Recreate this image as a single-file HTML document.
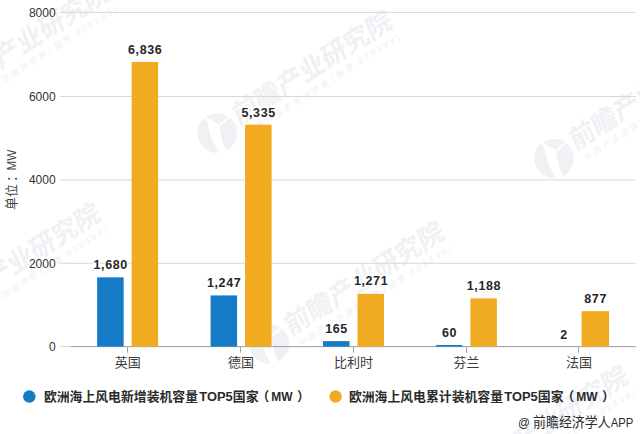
<!DOCTYPE html>
<html lang="zh-CN">
<head>
<meta charset="utf-8">
<title>欧洲海上风电新增与累计装机容量TOP5国家（MW）</title>
<style>
html,body{margin:0;padding:0;background:#fff;}
body{width:640px;height:434px;overflow:hidden;font-family:"Liberation Sans","Noto Sans CJK SC",sans-serif;}
#chart{display:block;width:640px;height:434px;}
#chart text{font-family:"Liberation Sans","Noto Sans CJK SC",sans-serif;}
</style>
</head>
<body>
<svg id="chart" width="640" height="434" viewBox="0 0 640 434" role="img" aria-label="欧洲海上风电新增装机容量TOP5国家与累计装机容量TOP5国家（MW）">
<defs>
<g id="wm" fill="#eff1f4" font-family="Liberation Sans, Noto Sans CJK SC, sans-serif"><g transform="translate(0.8 -3.6) rotate(32.5)"><circle cx="0" cy="0" r="19.8"/><g fill="#fff" stroke="none"><path d="M-13.2 -15.6 L-11.6 -17 L-7 -13.4 L1.6 -8.6 L3.6 1 L5 8 L9 18.2 L1.5 20.4 L-5.6 5.5 L-8.6 -5.5 L-9.4 -10.5 Z"/><path d="M1.2 -8.2 L11.6 -17.2 L13 -15.8 L3 -6.6 Z"/></g></g><g transform="translate(0 1.1) skewX(-8.5)"><text x="22.6" y="0" font-size="26.4" font-weight="700" fill="#eff1f4" textLength="184.1" lengthAdjust="spacingAndGlyphs">前瞻产业研究院</text><text x="28.2" y="14.5" font-size="8.4" fill="#eff1f4" letter-spacing="2.5">中国产业咨询领导者</text><text x="134.3" y="14.5" font-size="8.4" fill="#eff1f4" letter-spacing="2.1">股票</text><text x="127.8" y="14.2" font-size="8.6">(</text><text x="159.6" y="14.2" font-size="8.6" letter-spacing="2.7">839599)</text></g></g>
</defs>
<rect width="640" height="434" fill="#fff"/>
<use href="#wm" transform="translate(218.5 136.6) rotate(-32.5)"/>
<use href="#wm" transform="translate(555.3 162) rotate(-32.5)"/>
<use href="#wm" transform="translate(-63.9 108.1) rotate(-32.5)"/>
<use href="#wm" transform="translate(-73 329) rotate(-32.5)"/>
<use href="#wm" transform="translate(270.5 347.5) rotate(-32.5)"/>
<use href="#wm" transform="translate(454.5 491.75) rotate(-32.5)"/>
<rect x="60" y="262.8" width="575.6" height="1" fill="#d8d8d8"/>
<rect x="60" y="179.4" width="575.6" height="1" fill="#d8d8d8"/>
<rect x="60" y="96" width="575.6" height="1" fill="#d8d8d8"/>
<rect x="60" y="11.9" width="575.6" height="1" fill="#d8d8d8"/>
<rect x="60" y="346.1" width="575.5" height="1" fill="#d9d9d9"/>
<rect x="71" y="346.1" width="564.6" height="1" fill="#a2a2a2"/>
<rect x="127" y="347.1" width="1" height="5.6" fill="#a0a0a0"/>
<rect x="240" y="347.1" width="1" height="5.6" fill="#a0a0a0"/>
<rect x="353" y="347.1" width="1" height="5.6" fill="#a0a0a0"/>
<rect x="466" y="347.1" width="1" height="5.6" fill="#a0a0a0"/>
<rect x="578" y="347.1" width="1" height="5.6" fill="#a0a0a0"/>
<rect x="97.15" y="277.33" width="26.5" height="69.27" fill="#167bc7"/>
<rect x="131.65" y="61.96" width="26.5" height="284.64" fill="#f0ab21"/>
<rect x="210.6" y="295.41" width="26.5" height="51.19" fill="#167bc7"/>
<rect x="245.1" y="124.66" width="26.5" height="221.94" fill="#f0ab21"/>
<rect x="323" y="341.11" width="26.5" height="5.49" fill="#167bc7"/>
<rect x="357.5" y="293.91" width="26.5" height="52.69" fill="#f0ab21"/>
<rect x="435.9" y="344.99" width="26.5" height="1.61" fill="#167bc7"/>
<rect x="470.4" y="298.38" width="26.5" height="48.22" fill="#f0ab21"/>
<rect x="548.5" y="346.6" width="26.5" height="0" fill="#167bc7"/>
<rect x="581.6" y="311.17" width="27.5" height="35.43" fill="#f0ab21"/>
<g font-family="Liberation Sans, sans-serif" font-weight="700" font-size="12.5" letter-spacing="0.6" fill="#27272b" text-anchor="middle" stroke="#fff" stroke-width="3.4" stroke-linejoin="round" paint-order="stroke">
<text x="110.7" y="268.93">1,680</text>
<text x="145.2" y="53.56">6,836</text>
<text x="224.15" y="286.86">1,247</text>
<text x="258.65" y="116.71">5,335</text>
<text x="336.55" y="333.01">165</text>
<text x="371.05" y="285.21">1,271</text>
<text x="449.45" y="336.59">60</text>
<text x="483.95" y="289.98">1,188</text>
<text x="563.95" y="339.02">2</text>
<text x="595.65" y="302.97">877</text>
</g>
<g font-family="Liberation Sans, sans-serif" font-size="12" fill="#333" text-anchor="end">
<text x="55.6" y="350.85">0</text>
<text x="55.6" y="267.55">2000</text>
<text x="55.6" y="184.15">4000</text>
<text x="55.6" y="100.75">6000</text>
<text x="55.6" y="16.65">8000</text>
</g>
<g transform="translate(15.7 209.9) rotate(-90)"><text x="0" y="0" font-size="12.9" fill="#444">单位</text><text x="27.9" y="0" font-size="12.9" fill="#444">：</text><text x="39.4" y="0" font-family="Liberation Sans, sans-serif" font-size="12" fill="#444" textLength="20.8" lengthAdjust="spacingAndGlyphs">MW</text></g>
<text x="127.65" y="366.8" font-size="13" fill="#3a3a3a" text-anchor="middle">英国</text>
<text x="241.1" y="366.8" font-size="13" fill="#3a3a3a" text-anchor="middle">德国</text>
<text x="353.5" y="366.8" font-size="13" fill="#3a3a3a" text-anchor="middle">比利时</text>
<text x="466.4" y="366.8" font-size="13" fill="#3a3a3a" text-anchor="middle">芬兰</text>
<text x="579" y="366.8" font-size="13" fill="#3a3a3a" text-anchor="middle">法国</text>
<circle cx="29.3" cy="396.55" r="6.25" fill="#167bc7"/>
<text x="43.9" y="401.3" font-size="12.85" font-weight="700" fill="#2b2b2b">欧洲海上风电新增装机容量</text>
<text x="199.3" y="401.3" font-family="Liberation Sans, sans-serif" font-weight="700" font-size="12.6" fill="#2b2b2b" textLength="33.4" lengthAdjust="spacingAndGlyphs">TOP5</text>
<text x="232.8" y="401.3" font-size="12.85" font-weight="700" fill="#2b2b2b">国家</text>
<text x="256.5" y="401.3" font-size="12.85" font-weight="700" fill="#2b2b2b">（</text>
<text x="271.2" y="401.3" font-family="Liberation Sans, sans-serif" font-weight="700" font-size="12.4" fill="#2b2b2b" textLength="21.3" lengthAdjust="spacingAndGlyphs">MW</text>
<text x="296.9" y="401.3" font-size="12.85" font-weight="700" fill="#2b2b2b">）</text>
<circle cx="335.6" cy="396.55" r="6.25" fill="#f0ab21"/>
<text x="348.9" y="401.3" font-size="12.85" font-weight="700" fill="#2b2b2b">欧洲海上风电累计装机容量</text>
<text x="504.3" y="401.3" font-family="Liberation Sans, sans-serif" font-weight="700" font-size="12.6" fill="#2b2b2b" textLength="33.4" lengthAdjust="spacingAndGlyphs">TOP5</text>
<text x="537.8" y="401.3" font-size="12.85" font-weight="700" fill="#2b2b2b">国家</text>
<text x="561.5" y="401.3" font-size="12.85" font-weight="700" fill="#2b2b2b">（</text>
<text x="576.2" y="401.3" font-family="Liberation Sans, sans-serif" font-weight="700" font-size="12.4" fill="#2b2b2b" textLength="21.3" lengthAdjust="spacingAndGlyphs">MW</text>
<text x="601.9" y="401.3" font-size="12.85" font-weight="700" fill="#2b2b2b">）</text>
<text x="517.9" y="426.6" font-family="Liberation Sans, sans-serif" font-size="13" fill="#2a2a2a" textLength="11.9" lengthAdjust="spacingAndGlyphs">@</text>
<text x="533.1" y="427.2" font-size="13.2" fill="#2a2a2a" textLength="77.4" lengthAdjust="spacingAndGlyphs">前瞻经济学人</text>
<text x="610.76" y="427.2" font-family="Liberation Sans, sans-serif" font-size="13.6" fill="#2a2a2a" textLength="22.5" lengthAdjust="spacingAndGlyphs">APP</text>
</svg>
</body>
</html>
